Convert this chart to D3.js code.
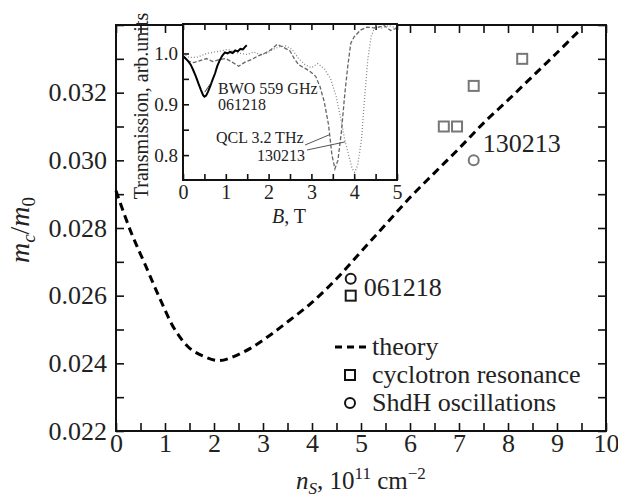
<!DOCTYPE html>
<meta charset="utf-8">
<style>
body { margin: 0; background: #fff; }
svg, .axis { font-family: "Liberation Serif", "DejaVu Serif", serif; }
.frame { fill: none; stroke: #111; stroke-width: 2; }
.axis path { display: none; }
.axis line { stroke: #111; stroke-width: 1.6; }
.axis text { fill: #222; }
</style>
<svg width="618" height="502"></svg>
<script src="https://cdn.jsdelivr.net/npm/d3@7"></script>
<script>

// main plot: effective mass vs density
var theoryNs = [0, 0.3, 0.6, 0.9, 1.2, 1.5, 1.8, 2.1, 2.4, 2.75, 3.15, 3.55, 4.0, 4.5, 5.0, 5.5, 6.0, 6.5, 7.0, 7.5, 8.0, 8.5, 9.0, 9.5];
var theoryMc = [0.0291, 0.0279, 0.0269, 0.0259, 0.0250, 0.02445, 0.0242, 0.02408, 0.0242, 0.02445, 0.02484, 0.02528, 0.0258, 0.0265, 0.0273, 0.0281, 0.0289, 0.02963, 0.03035, 0.0311, 0.03178, 0.03248, 0.03318, 0.0339];

var crNs = [4.79, 6.69, 6.96, 7.30, 8.29];
var crMc = [0.0260, 0.0310, 0.0310, 0.0322, 0.0330];
var crSample = ["061218", "130213", "130213", "130213", "130213"];

var shNs = [4.79, 7.30];
var shMc = [0.0265, 0.0300];
var shSample = ["061218", "130213"];

var xTicks = d3.range(0, 10.01, 0.5);
var yTicks = d3.range(0.022, 0.03401, 0.001);
var yLabels = [0.022, 0.024, 0.026, 0.028, 0.030, 0.032];

// inset: transmission vs B
var bwoB = [0, 0.06, 0.12, 0.18, 0.24, 0.3, 0.36, 0.42, 0.47, 0.5, 0.54, 0.58, 0.63, 0.69, 0.75, 0.8, 0.86, 0.92, 0.98, 1.04, 1.1, 1.16, 1.22, 1.28, 1.34, 1.4, 1.45, 1.49];
var bwoT = [0.995, 0.99, 0.985, 0.978, 0.967, 0.955, 0.941, 0.928, 0.918, 0.915, 0.917, 0.924, 0.934, 0.948, 0.961, 0.975, 0.987, 0.996, 1.002, 1.0, 1.003, 1.001, 1.006, 1.004, 1.009, 1.008, 1.013, 1.016];

var dashB = [0, 0.12, 0.25, 0.4, 0.55, 0.7, 0.85, 1.0, 1.15, 1.3, 1.45, 1.6, 1.75, 1.9, 2.05, 2.2, 2.35, 2.5, 2.6, 2.7, 2.8, 2.95, 3.1, 3.2, 3.3, 3.4, 3.48, 3.55, 3.62, 3.7, 3.78, 3.85, 3.92, 4.0, 4.15, 4.3, 4.5, 4.7, 4.85, 5.0];
var dashT = [0.995, 0.985, 0.982, 0.986, 0.99, 0.984, 0.988, 0.99, 0.983, 0.975, 0.983, 0.988, 0.995, 1.0, 1.007, 1.018, 1.012, 1.005, 0.99, 0.978, 0.973, 0.966, 0.955, 0.935, 0.905, 0.86, 0.80, 0.773, 0.79, 0.845, 0.92, 0.975, 1.02, 1.033, 1.046, 1.052, 1.05, 1.055, 1.045, 1.05];

var dotB = [0, 0.15, 0.35, 0.55, 0.75, 0.9, 1.05, 1.2, 1.35, 1.5, 1.65, 1.8, 1.95, 2.1, 2.25, 2.4, 2.55, 2.7, 2.85, 3.0, 3.15, 3.3, 3.45, 3.58, 3.68, 3.78, 3.87, 3.95, 4.01, 4.08, 4.17, 4.25, 4.32, 4.4, 4.5, 4.65, 4.8, 5.0];
var dotT = [1.0, 0.992, 0.993, 1.0, 1.003, 1.005, 1.008, 1.003, 1.0, 0.998, 1.003, 0.998, 1.0, 1.008, 1.013, 1.015, 1.008, 0.99, 0.978, 0.972, 0.98, 0.97, 0.95, 0.915, 0.875, 0.83, 0.80, 0.774, 0.766, 0.78, 0.83, 0.92, 0.99, 1.035, 1.055, 1.05, 1.055, 1.05];

var insetXTicks = d3.range(0, 5.01, 0.5);
var insetYTicks = [0.8, 0.85, 0.9, 0.95, 1.0];

var svg = d3.select("svg");

var x = d3.scaleLinear().domain([0, 10]).range([116, 606]);
var y = d3.scaleLinear().domain([0.022, 0.034]).range([431, 25]);

function sampleColor(s) { return s == "061218" ? "#1a1a1a" : "#777"; }

svg.append("g").attr("class", "axis")
    .attr("transform", "translate(0,431)")
    .call(d3.axisBottom(x).tickValues(xTicks).tickSize(-8).tickPadding(3)
      .tickFormat(function(d) { return d % 1 == 0 ? d : ""; }))
    .selectAll("text").style("font-size", "26px");

svg.append("g").attr("class", "axis")
    .attr("transform", "translate(0,25)")
    .call(d3.axisTop(x).tickValues(xTicks).tickSize(-8).tickFormat(""));

svg.append("g").attr("class", "axis")
    .attr("transform", "translate(116,0)")
    .call(d3.axisLeft(y).tickValues(yTicks).tickSize(-8).tickPadding(9)
      .tickFormat(function(d) {
        return yLabels.some(function(v) { return Math.abs(v - d) < 1e-6; }) ? d3.format(".3f")(d) : "";
      }))
    .selectAll("text").style("font-size", "26px");

svg.append("g").attr("class", "axis")
    .attr("transform", "translate(606,0)")
    .call(d3.axisRight(y).tickValues(yTicks).tickSize(-8).tickFormat(""));

svg.append("rect").attr("class", "frame")
    .attr("x", 116).attr("y", 25).attr("width", 490).attr("height", 406);

// theory curve
var line = d3.line().x(function(d) { return x(d[0]); }).y(function(d) { return y(d[1]); }).curve(d3.curveCatmullRom);
svg.append("path")
    .datum(d3.zip(theoryNs, theoryMc))
    .attr("d", line)
    .attr("fill", "none").attr("stroke", "#000")
    .attr("stroke-width", 3).attr("stroke-dasharray", "8,5");

// cyclotron resonance squares
svg.append("g").selectAll("rect")
    .data(d3.range(crNs.length))
  .enter().append("rect")
    .attr("x", function(i) { return x(crNs[i]) - 5; })
    .attr("y", function(i) { return y(crMc[i]) - 5; })
    .attr("width", 10).attr("height", 10)
    .attr("fill", "none")
    .attr("stroke", function(i) { return sampleColor(crSample[i]); })
    .attr("stroke-width", 2);

// ShdH circles
svg.append("g").selectAll("circle")
    .data(d3.range(shNs.length))
  .enter().append("circle")
    .attr("cx", function(i) { return x(shNs[i]); })
    .attr("cy", function(i) { return y(shMc[i]); })
    .attr("r", 5)
    .attr("fill", "none")
    .attr("stroke", function(i) { return sampleColor(shSample[i]); })
    .attr("stroke-width", 2);

svg.append("text").attr("x", x(4.79) + 13).attr("y", y(0.02625) + 9)
    .style("font-size", "26px").attr("fill", "#222").text("061218");
svg.append("text").attr("x", x(7.30) + 9).attr("y", y(0.0305) + 9)
    .style("font-size", "26px").attr("fill", "#222").text("130213");

// legend
var leg = svg.append("g").style("font-size", "26px").attr("fill", "#222");
leg.append("line").attr("x1", 335).attr("x2", 369).attr("y1", 347).attr("y2", 347)
    .attr("stroke", "#000").attr("stroke-width", 3).attr("stroke-dasharray", "7,5");
leg.append("text").attr("x", 372).attr("y", 355).text("theory");
leg.append("rect").attr("x", 345).attr("y", 370).attr("width", 10).attr("height", 10)
    .attr("fill", "none").attr("stroke", "#111").attr("stroke-width", 2);
leg.append("text").attr("x", 372).attr("y", 383).text("cyclotron resonance");
leg.append("circle").attr("cx", 350).attr("cy", 403).attr("r", 5)
    .attr("fill", "none").attr("stroke", "#111").attr("stroke-width", 2);
leg.append("text").attr("x", 372).attr("y", 411).text("ShdH oscillations");

// axis titles
var yt = svg.append("text").attr("transform", "translate(29,230) rotate(-90)")
    .attr("text-anchor", "middle").style("font-size", "28px").attr("fill", "#222");
yt.append("tspan").style("font-style", "italic").text("m");
yt.append("tspan").style("font-style", "italic").style("font-size", "19px").attr("dy", 6).text("c");
yt.append("tspan").attr("dy", -6).text("/");
yt.append("tspan").style("font-style", "italic").text("m");
yt.append("tspan").style("font-size", "19px").attr("dy", 6).text("0");

var xt = svg.append("text").attr("x", 361).attr("y", 489)
    .attr("text-anchor", "middle").style("font-size", "25px").attr("fill", "#222");
xt.append("tspan").style("font-style", "italic").text("n");
xt.append("tspan").style("font-style", "italic").style("font-size", "17px").attr("dy", 5).text("S");
xt.append("tspan").attr("dy", -5).text(", 10");
xt.append("tspan").style("font-size", "17px").attr("dy", -10).text("11");
xt.append("tspan").attr("dy", 10).text(" cm");
xt.append("tspan").style("font-size", "17px").attr("dy", -10).text("\u22122");

// inset
var ix = d3.scaleLinear().domain([0, 5]).range([183, 397]);
var iy = d3.scaleLinear().domain([0.751, 1.058]).range([180, 24]);

svg.append("rect").attr("x", 183).attr("y", 24).attr("width", 214).attr("height", 156).attr("fill", "#fff");

svg.append("clipPath").attr("id", "inclip")
  .append("rect").attr("x", 183).attr("y", 24).attr("width", 214).attr("height", 156);

svg.append("g").attr("class", "axis")
    .attr("transform", "translate(0,180)")
    .call(d3.axisBottom(ix).tickValues(insetXTicks).tickSize(-6).tickPadding(5)
      .tickFormat(function(d) { return d % 1 == 0 ? d : ""; }))
    .selectAll("text").style("font-size", "20px");

svg.append("g").attr("class", "axis")
    .attr("transform", "translate(0,24)")
    .call(d3.axisTop(ix).tickValues(insetXTicks).tickSize(-6).tickFormat(""));

svg.append("g").attr("class", "axis")
    .attr("transform", "translate(183,0)")
    .call(d3.axisLeft(iy).tickValues(insetYTicks).tickSize(-6).tickPadding(5)
      .tickFormat(function(d) { return Math.round(d * 100) % 10 == 0 ? d3.format(".1f")(d) : ""; }))
    .selectAll("text").style("font-size", "19px");

var iline = d3.line().x(function(d) { return ix(d[0]); }).y(function(d) { return iy(d[1]); }).curve(d3.curveLinear);
var curves = svg.append("g").attr("clip-path", "url(#inclip)");
curves.append("path").datum(d3.zip(dotB, dotT)).attr("d", iline)
    .attr("fill", "none").attr("stroke", "#888").attr("stroke-width", 1.3).attr("stroke-dasharray", "1,2");
curves.append("path").datum(d3.zip(dashB, dashT)).attr("d", iline)
    .attr("fill", "none").attr("stroke", "#666").attr("stroke-width", 1.3).attr("stroke-dasharray", "4,2");
curves.append("path").datum(d3.zip(bwoB, bwoT)).attr("d", iline)
    .attr("fill", "none").attr("stroke", "#000").attr("stroke-width", 2);

svg.append("rect").attr("class", "frame")
    .attr("x", 183).attr("y", 24).attr("width", 214).attr("height", 156);

// inset annotations
var ann = svg.append("g").style("font-size", "16px").attr("fill", "#222");
ann.append("line").attr("x1", ix(0.67)).attr("y1", iy(0.944)).attr("x2", ix(0.51)).attr("y2", iy(0.924))
    .attr("stroke", "#333").attr("stroke-width", 1);
ann.append("text").attr("x", 218).attr("y", 94).text("BWO 559 GHz");
ann.append("text").attr("x", 218).attr("y", 110).text("061218");
ann.append("text").attr("x", 216).attr("y", 143).text("QCL 3.2 THz");
ann.append("text").attr("x", 257).attr("y", 161).text("130213");
ann.append("line").attr("x1", 305).attr("y1", 145).attr("x2", ix(3.42)).attr("y2", iy(0.84))
    .attr("stroke", "#555").attr("stroke-width", 1);
ann.append("line").attr("x1", 307).attr("y1", 150).attr("x2", ix(3.79)).attr("y2", iy(0.826))
    .attr("stroke", "#555").attr("stroke-width", 1);

svg.append("text").attr("transform", "translate(148,106) rotate(-90)")
    .attr("text-anchor", "middle").style("font-size", "20px").attr("fill", "#222")
    .text("Transmission, arb.units");

var bt = svg.append("text").attr("x", 289).attr("y", 223).attr("text-anchor", "middle")
    .style("font-size", "20px").attr("fill", "#222");
bt.append("tspan").style("font-style", "italic").text("B");
bt.append("tspan").text(", T");

</script>
